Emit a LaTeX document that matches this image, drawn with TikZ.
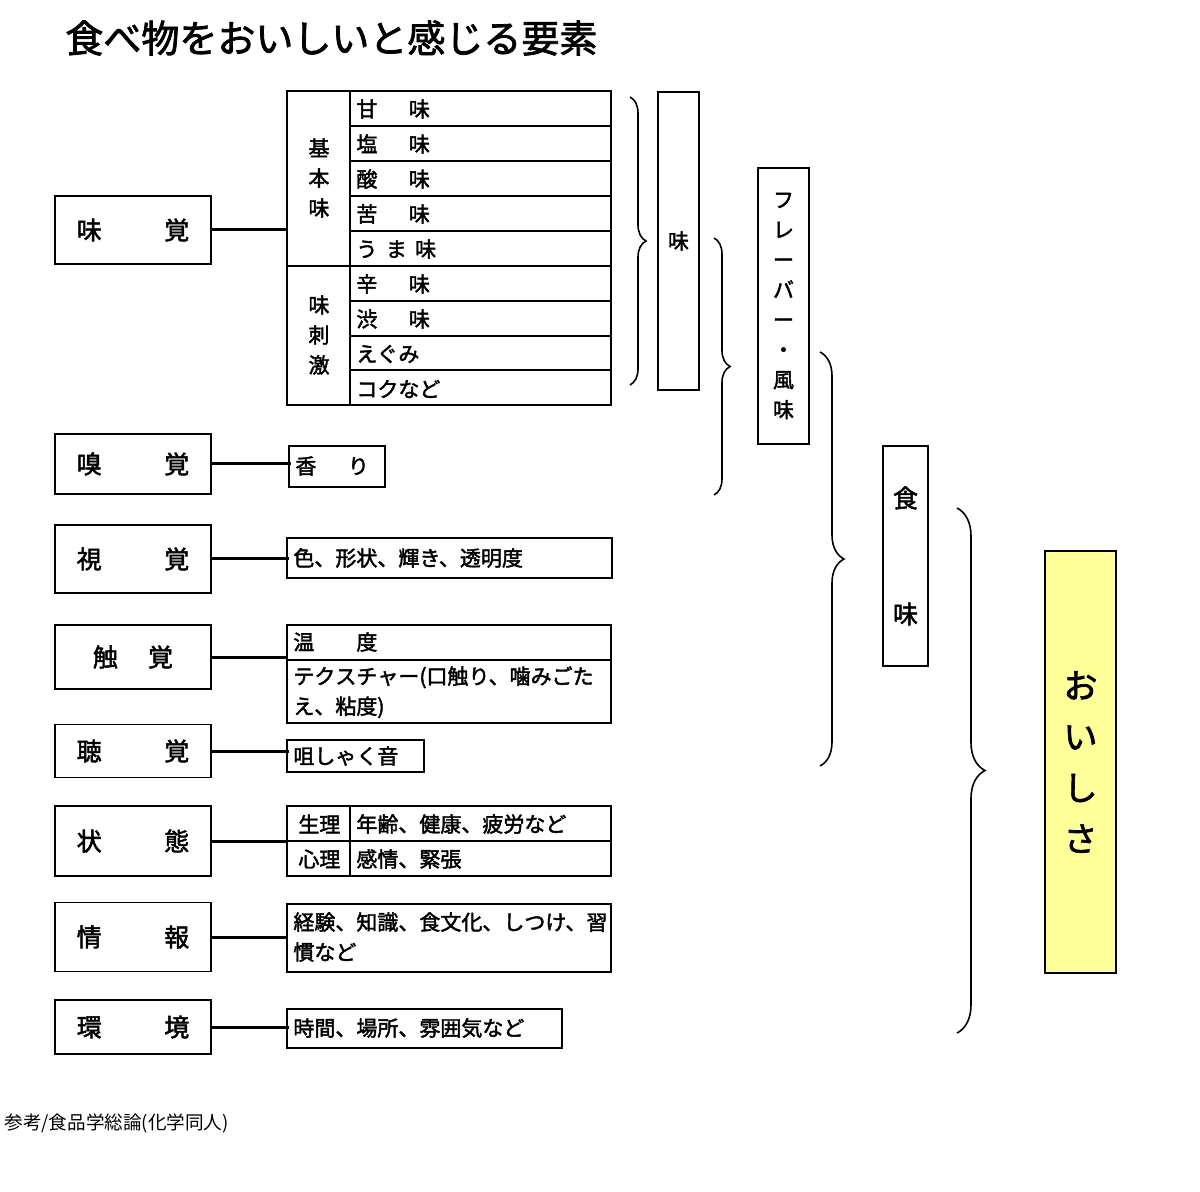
\documentclass[tikz,border=0pt]{standalone}
\usepackage{fontspec}
\setmainfont{Noto Sans CJK JP}
\newfontfamily\bjp{Noto Sans CJK JP}[FakeBold=2]
\XeTeXlinebreaklocale "ja"
\usetikzlibrary{decorations.pathreplacing}
\definecolor{paleyellow}{HTML}{FFFF99}
\tikzset{
  sense/.style={draw,thick,minimum width=78pt,minimum height=#1,font=\bjp\fontsize{12.5}{14}\selectfont,inner sep=0pt},
  item/.style={anchor=west,font=\bjp\fontsize{10.5}{12}\selectfont,inner sep=2pt},
  para/.style={anchor=north west,align=left,text width=158pt,font=\bjp\fontsize{10.5}{15}\selectfont,inner sep=2pt},
  cell/.style={draw,thick},
  link/.style={line width=1.5pt},
  brace/.style={decorate,decoration={brace,amplitude=#1},thick}
}
\begin{document}
\begin{tikzpicture}[x=0.5pt,y=-0.5pt]
\useasboundingbox (0,0) rectangle (1200,1192);
\node[anchor=west,inner sep=0pt,font=\bjp\fontsize{19}{21}\selectfont] (title) at (65,38) {食べ物をおいしいと感じる要素};

% left column
\node[sense=34pt] (mikaku) at (133,230) {味\hspace{2.5em}覚};
\node[sense=30pt] (kyukaku) at (133,464) {嗅\hspace{2.5em}覚};
\node[sense=34pt] (shikaku) at (133,559) {視\hspace{2.5em}覚};
\node[sense=32pt] (shokkaku) at (133,657) {触\hspace{1.2em}覚};
\node[sense=26.5pt] (chokaku) at (133,751) {聴\hspace{2.5em}覚};
\node[sense=35pt] (jotai) at (133,841) {状\hspace{2.5em}態};
\node[sense=34.5pt] (joho) at (133,937) {情\hspace{2.5em}報};
\node[sense=27pt] (kankyo) at (133,1027) {環\hspace{2.5em}境};

% taste table
\draw[cell] (287,91) rectangle (611,405);
\draw[cell] (350,91) -- (350,405);
\draw[cell] (287,266) -- (350,266);
\foreach \y in {126,161,196,231,266,301,336,370} \draw[cell] (350,\y) -- (611,\y);
\node[align=center,font=\bjp\fontsize{10.5}{15}\selectfont] (kihon) at (319,178) {基\\本\\味};
\node[align=center,font=\bjp\fontsize{10.5}{15}\selectfont] (shigeki) at (319,335) {味\\刺\\激};
\foreach \t [count=\i] in {甘\hspace{1.5em}味,塩\hspace{1.5em}味,酸\hspace{1.5em}味,苦\hspace{1.5em}味,う\hspace{0.4em}ま\hspace{0.4em}味,辛\hspace{1.5em}味,渋\hspace{1.5em}味,えぐみ,コクなど}
  \node[item] (t\i) at (352,{91+35*\i-17}) {\t};
\coordinate (tbl) at (287,230);
\draw[link] (mikaku.east) -- (tbl);

% other items
\draw[cell] (289,446) rectangle (385,487);
\node[item] (kaori) at (291,466) {香\hspace{1.5em}り};
\draw[link] (kyukaku.east) -- (kyukaku.east -| kaori.west);

\draw[cell] (287,538) rectangle (612,578);
\node[item] (iro) at (289,558) {色、形状、輝き、透明度};
\draw[link] (shikaku.east) -- (shikaku.east -| iro.west);

\draw[cell] (287,625) rectangle (611,723);
\draw[cell] (287,660) -- (611,660);
\node[item] (ondo) at (289,642) {温\hspace{2em}度};
\node[para] (texture) at (289,662) {テクスチャー(口触り、噛みごたえ、粘度)};
\coordinate (tex) at (287,660);
\draw[link] (shokkaku.east) -- (shokkaku.east -| tex);

\draw[cell] (287,740) rectangle (424,772);
\node[item] (soshaku) at (289,756) {咀しゃく音};
\draw[link] (chokaku.east) -- (chokaku.east -| soshaku.west);

\draw[cell] (287,806) rectangle (611,876);
\draw[cell] (287,841) -- (611,841);
\draw[cell] (350,806) -- (350,876);
\node[item] (seiri) at (294,824) {生理};
\node[item] (shinri) at (294,859) {心理};
\node[item] (nenrei) at (352,824) {年齢、健康、疲労など};
\node[item] (kanjo) at (352,859) {感情、緊張};
\coordinate (jt) at (287,838);
\draw[link] (jotai.east) -- (jotai.east -| jt);

\draw[cell] (287,904) rectangle (611,972);
\node[para] (keiken) at (289,908) {経験、知識、食文化、しつけ、習慣など};
\coordinate (jh) at (287,937);
\draw[link] (joho.east) -- (jh);

\draw[cell] (287,1009) rectangle (562,1048);
\node[item] (jikan) at (289,1028) {時間、場所、雰囲気など};
\draw[link] (kankyo.east) -- (kankyo.east -| jikan.west);

% braces and summaries
\draw[brace=8pt] (630,97) -- (630,385);
\node[draw,thick,minimum width=20.5pt,minimum height=149pt,font=\bjp\fontsize{10.5}{12}\selectfont] (aji) at (678.5,241) {味};
\draw[brace=8pt] (714,238) -- (714,495);
\node[draw,thick,minimum width=25.5pt,minimum height=138pt,align=center,font=\bjp\fontsize{10.5}{15}\selectfont] (flavor) at (783.5,306) {フ\\レ\\ー\\バ\\ー\\・\\風\\味};
\draw[brace=12pt] (820,352) -- (820,766);
\node[draw,thick,minimum width=22.5pt,minimum height=110pt,align=center,font=\bjp\fontsize{12.5}{14}\selectfont] (shokumi) at (905.5,556) {食\\[44pt]味};
\draw[brace=14pt] (957,508) -- (957,1033);
\node[draw,thick,fill=paleyellow,minimum width=35.5pt,minimum height=211pt,align=center,font=\bjp\fontsize{17}{25.5}\selectfont] (oishisa) at (1080.5,762) {お\\い\\し\\さ};

\node[anchor=west,font=\fontsize{9.3}{11}\selectfont,inner sep=0pt] (ref) at (4,1123) {参考/食品学総論(化学同人)};
\end{tikzpicture}
\end{document}
